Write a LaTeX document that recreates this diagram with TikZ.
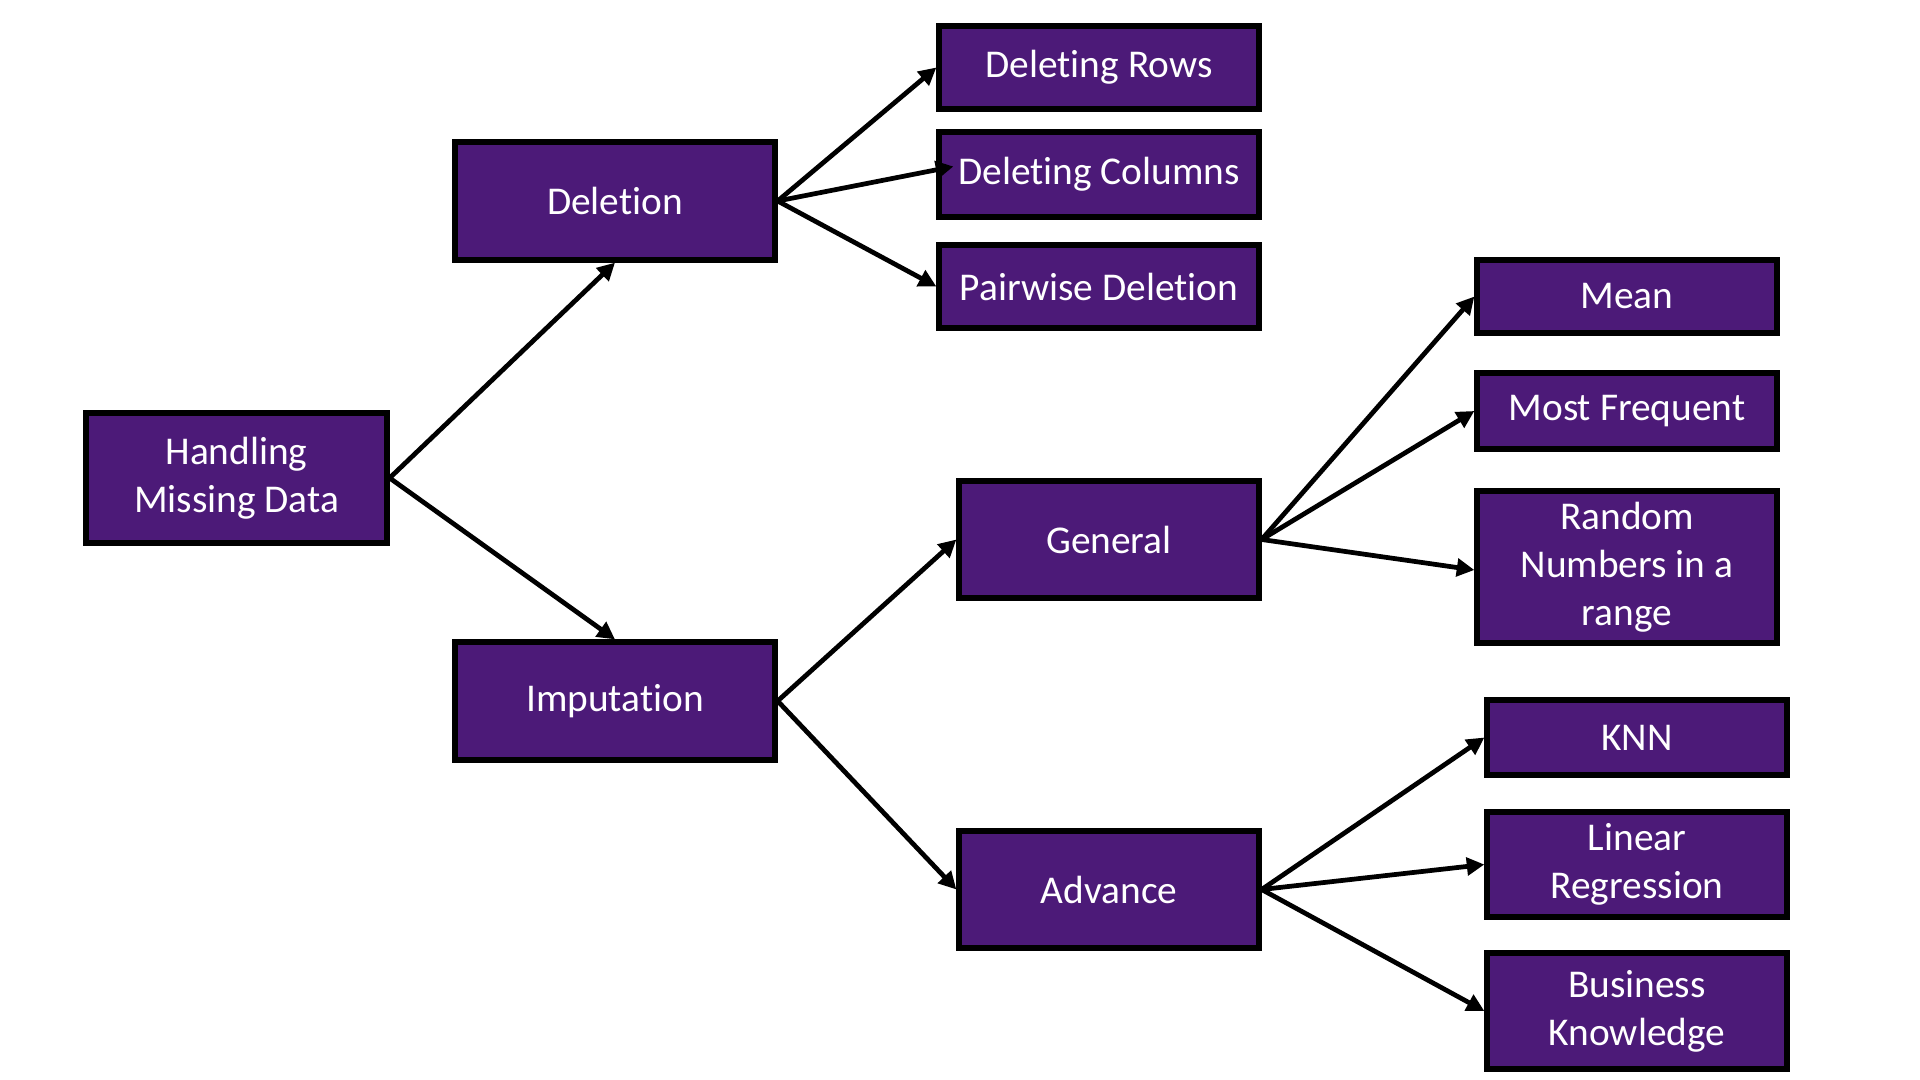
\documentclass[tikz,border=0pt]{standalone}
\usepackage{fontspec}
\setmainfont{Carlito}[Ligatures=NoCommon]
\usetikzlibrary{arrows.meta,shadows}
\definecolor{viola}{RGB}{76,26,120}
\tikzset{
  blocco/.style = {rectangle, draw=black, line width=1.5pt, fill=viola, text=white, align=center, inner sep=0,
                   font=\fontsize{11.2}{13.7}\selectfont, drop shadow={opacity=0.35, shadow xshift=0.8pt, shadow yshift=-0.8pt}},
  link/.style   = {line width=1.35pt, -{Triangle[length=5pt, width=5pt]}}
}
\begin{document}
\begin{tikzpicture}
  \useasboundingbox (0,0) rectangle (19.2,-10.8);
  \node[blocco, minimum width=30.1mm, minimum height=13mm]   (hmd) at ( 2.365,-4.78)  {Handling\\Missing Data};
  \node[blocco, minimum width=32mm, minimum height=11.8mm]   (del) at ( 6.15, -2.01)  {Deletion};
  \node[blocco, minimum width=32mm, minimum height=11.8mm]   (imp) at ( 6.15, -7.01)  {Imputation};
  \node[blocco, minimum width=32mm, minimum height=8.3mm]    (drow) at (10.99,-0.675) {Deleting Rows};
  \node[blocco, minimum width=32mm, minimum height=8.5mm]    (dcol) at (10.99,-1.745) {Deleting Columns};
  \node[blocco, minimum width=32mm, minimum height=8.3mm]    (pair) at (10.99,-2.865) {Pairwise Deletion};
  \node[blocco, minimum width=30mm, minimum height=11.7mm]   (gen) at (11.09,-5.395) {General};
  \node[blocco, minimum width=30mm, minimum height=11.7mm]   (adv) at (11.09,-8.895) {Advance};
  \node[blocco, minimum width=30mm, minimum height=7.3mm]    (mean) at (16.27,-2.965) {Mean};
  \node[blocco, minimum width=30mm, minimum height=7.6mm]    (freq) at (16.27,-4.11)  {Most Frequent};
  \node[blocco, minimum width=30mm, minimum height=15.2mm]   (rand) at (16.27,-5.67)  {Random\\Numbers in a\\range};
  \node[blocco, minimum width=30mm, minimum height=7.5mm]    (knn) at (16.37,-7.375) {KNN};
  \node[blocco, minimum width=30mm, minimum height=10.5mm]   (lin) at (16.37,-8.645) {Linear\\Regression};
  \node[blocco, minimum width=30mm, minimum height=11.6mm]   (bus) at (16.37,-10.11) {Business\\Knowledge};

  \draw[link] (hmd.east) -- (del.south);
  \draw[link] (hmd.east) -- (imp.north);
  \draw[link] (del.east) -- (drow.west);
  \draw[link] (del.east) -- ([xshift=1.7mm, yshift=0.8mm]dcol.west);
  \draw[link] (del.east) -- (pair.west);
  \draw[link] (imp.east) -- (gen.west);
  \draw[link] (imp.east) -- (adv.west);
  \draw[link] (gen.east) -- (mean.west);
  \draw[link] (gen.east) -- (freq.west);
  \draw[link] (gen.east) -- ([yshift=-0.3mm]rand.west);
  \draw[link] (adv.east) -- (knn.west);
  \draw[link] (adv.east) -- (lin.west);
  \draw[link] (adv.east) -- (bus.west);
\end{tikzpicture}
\end{document}
